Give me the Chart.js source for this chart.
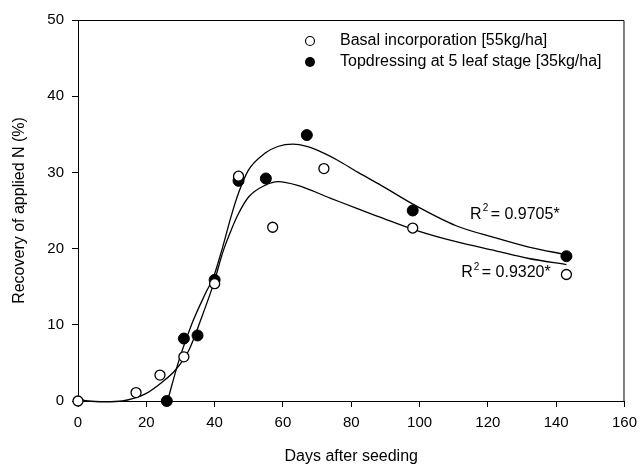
<!DOCTYPE html>
<html lang="en">
  <head>
    <meta charset="UTF-8" />
    <title>Recovery of applied N</title>
    <script src="https://cdn.jsdelivr.net/npm/chart.js"></script>
    <style>
      html, body { margin: 0; padding: 0; background: #fff; }
      #wrap { width: 644px; height: 465px; }
    </style>
  </head>
  <body>
    <div id="wrap"><canvas id="nChart"></canvas></div>

    <script>
      // measured points (days after seeding, recovery %)
      const basalDays = [0, 17, 24, 31, 40, 47, 57, 72, 98, 143];
      const basalRec = [0, 1.1, 3.4, 5.8, 15.4, 29.5, 22.8, 30.5, 22.7, 16.6];

      const topDays = [26, 31, 35, 40, 47, 55, 67, 98, 143];
      const topRec = [0, 8.2, 8.6, 15.9, 28.9, 29.2, 34.9, 25.0, 19.0];

      // fitted curves
      const basalFitDays = [0, 3, 8, 13, 16, 20, 24.7, 28.6, 32.5, 36.3, 39.7, 42.6, 45, 47, 50, 54.7, 58.6, 64.3, 74, 82, 88, 99, 110.7, 122.3, 132, 143];
      const basalFitRec = [0.3, 0, -0.1, 0, 0.3, 1.0, 2.5, 4.1, 6.7, 11.1, 15.4, 19.8, 22.6, 24.6, 26.8, 28.3, 28.8, 28.3, 26.6, 25.2, 24.2, 22.4, 20.9, 19.7, 18.7, 17.9];

      const topFitDays = [26.2, 29.6, 33.4, 37.3, 39.7, 42.1, 45, 47, 49.9, 54.7, 58.5, 62.9, 67, 72.1, 76, 82, 88, 99, 110.7, 122.3, 132, 143];
      const topFitRec = [0, 5.4, 10.2, 14.1, 16.3, 19.8, 24.5, 27.3, 30.3, 32.5, 33.4, 33.7, 33.4, 32.5, 31.6, 30.0, 28.5, 25.6, 23.0, 21.4, 20.2, 19.2];

      const xTicks = [0, 20, 40, 60, 80, 100, 120, 140, 160];
      const yTicks = [0, 10, 20, 30, 40, 50];

      const legendLabels = ["Basal incorporation [55kg/ha]", "Topdressing at 5 leaf stage [35kg/ha]"];
      const r2Labels = ["0.9705*", "0.9320*"];
      const r2Pos = [[114.8, 24.5], [112.2, 16.8]];

      const FONT = "'Liberation Sans', Arial, sans-serif";
      const pts = (xs, ys) => xs.map((x, i) => ({ x: x, y: ys[i] }));

      // frame on top/right + legend + R2 notes
      const extras = {
        id: "extras",
        afterDraw(chart) {
          const { ctx, chartArea: a, scales } = chart;
          ctx.save();
          ctx.strokeStyle = "#000";
          ctx.lineWidth = 1;
          ctx.beginPath();
          ctx.moveTo(a.left, a.top + 0.5);
          ctx.lineTo(a.right - 0.5, a.top + 0.5);
          ctx.lineTo(a.right - 0.5, a.bottom);
          ctx.stroke();

          // legend
          ctx.font = "16px " + FONT;
          ctx.fillStyle = "#000";
          ctx.textBaseline = "middle";
          ctx.textAlign = "left";
          const lx = 310, ly = [41, 62];
          ctx.beginPath();
          ctx.arc(lx, ly[0], 4.5, 0, Math.PI * 2);
          ctx.fillStyle = "#fff";
          ctx.fill();
          ctx.lineWidth = 1.2;
          ctx.stroke();
          ctx.beginPath();
          ctx.arc(lx, ly[1], 5, 0, Math.PI * 2);
          ctx.fillStyle = "#000";
          ctx.fill();
          ctx.fillText(legendLabels[0], 340, ly[0]);
          ctx.fillText(legendLabels[1], 340, ly[1]);

          // R² labels
          r2Labels.forEach((t, i) => {
            const px = scales.x.getPixelForValue(r2Pos[i][0]);
            const py = scales.y.getPixelForValue(r2Pos[i][1]);
            ctx.font = "16px " + FONT;
            ctx.fillText("R", px, py);
            const w = ctx.measureText("R").width;
            ctx.font = "10px " + FONT;
            ctx.fillText("2", px + w + 1, py - 6);
            ctx.font = "16px " + FONT;
            ctx.fillText("= " + t, px + w + 9, py);
          });
          ctx.restore();
        },
      };

      new Chart(document.getElementById("nChart"), {
        type: "scatter",
        data: {
          datasets: [
            {
              label: legendLabels[0],
              data: pts(basalDays, basalRec),
              pointRadius: 5,
              pointBackgroundColor: "#fff",
              pointBorderColor: "#000",
              pointBorderWidth: 1.3,
              clip: false,
            },
            {
              label: legendLabels[1],
              data: pts(topDays, topRec),
              pointRadius: 5.5,
              pointBackgroundColor: "#000",
              pointBorderColor: "#000",
              pointBorderWidth: 1,
              clip: false,
            },
            {
              label: "basal fit",
              data: pts(basalFitDays, basalFitRec),
              showLine: true,
              pointRadius: 0,
              borderColor: "#000",
              borderWidth: 1.3,
              cubicInterpolationMode: "monotone",
              clip: false,
            },
            {
              label: "topdressing fit",
              data: pts(topFitDays, topFitRec),
              showLine: true,
              pointRadius: 0,
              borderColor: "#000",
              borderWidth: 1.3,
              cubicInterpolationMode: "monotone",
              clip: false,
            },
          ],
        },
        options: {
          responsive: true,
          maintainAspectRatio: false,
          animation: false,
          devicePixelRatio: 1,
          layout: { padding: { top: 20, right: 14, left: 0, bottom: 0 } },
          plugins: {
            legend: { display: false },
            tooltip: { enabled: false },
          },
          scales: {
            x: {
              type: "linear",
              min: 0,
              max: 160,
              afterBuildTicks: (s) => { s.ticks = xTicks.map((v) => ({ value: v })); },
              afterFit: (s) => { s.height = 64; },
              ticks: { color: "#000", padding: 7, font: { family: FONT, size: 15 } },
              grid: { drawOnChartArea: false, drawTicks: true, tickLength: 6, color: "#000" },
              border: { color: "#000", width: 1 },
              title: {
                display: true,
                text: "Days after seeding",
                color: "#000",
                font: { family: FONT, size: 16, lineHeight: 1 },
                padding: { top: 0, bottom: 0 },
              },
            },
            y: {
              min: 0,
              max: 50,
              afterBuildTicks: (s) => { s.ticks = yTicks.map((v) => ({ value: v })); },
              afterFit: (s) => { s.width = 78; },
              ticks: { color: "#000", padding: 8, font: { family: FONT, size: 15 } },
              grid: { drawOnChartArea: false, drawTicks: true, tickLength: 6, color: "#000" },
              border: { color: "#000", width: 1 },
              title: {
                display: true,
                text: "Recovery of applied N (%)",
                color: "#000",
                font: { family: FONT, size: 16, lineHeight: 1 },
                padding: { top: 12, bottom: 0 },
              },
            },
          },
        },
        plugins: [extras],
      });
    </script>
  </body>
</html>
